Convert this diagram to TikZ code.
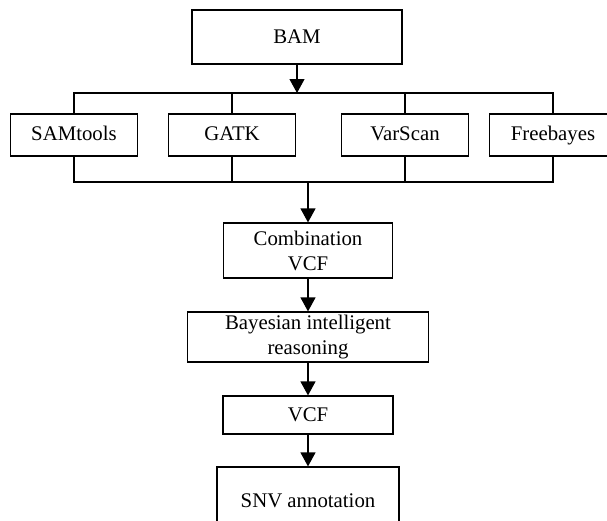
\documentclass[tikz,border=0pt]{standalone}
\usepackage{fontspec}
\setmainfont{Liberation Serif}
\usetikzlibrary{arrows.meta}

\begin{document}
\begin{tikzpicture}[x=1pt, y=-1pt,
    box/.style={draw, line width=1.2pt, inner sep=0pt, align=center,
        font=\fontsize{20.8}{25}\selectfont},
    tool/.style={box, minimum width=127, minimum height=42, text height=14pt, text depth=4pt},
    link/.style={line width=1.2pt},
    arr/.style={link, -{Triangle[width=15pt, length=14pt]}}]
    \clip (0,0) rectangle (607,520);

    % Input
    \node[box, minimum width=210, minimum height=54] (bam) at (297,37) {BAM};

    % Callers
    \node[tool] (samtools) at (74,135) {SAMtools};
    \node[tool] (gatk) at (232,135) {GATK};
    \node[tool] (varscan) at (405,135) {VarScan};
    \node[tool] (freebayes) at (553,135) {Freebayes};

    % Pipeline
    \node[box, minimum width=169, minimum height=55] (combvcf) at (308,250.5) {Combination\\VCF};
    \node[box, minimum width=241, minimum height=50] (bayes) at (308,337) {Bayesian intelligent\\reasoning};
    \node[box, minimum width=170, minimum height=38] (vcf) at (308,415) {VCF};
    \node[box, minimum width=182, minimum height=68] (snv) at (308,501) {SNV annotation};

    % Buses
    \coordinate (tophub) at (297,93);
    \coordinate (bothub) at (308,182);
    \draw[arr] (bam) -- (tophub);
    \draw[link] (samtools.north) -- (samtools.north |- tophub) -- (freebayes.north |- tophub) -- (freebayes.north);
    \draw[link] (gatk.north) -- (gatk.north |- tophub);
    \draw[link] (varscan.north) -- (varscan.north |- tophub);
    \draw[link] (samtools.south) -- (samtools.south |- bothub) -- (freebayes.south |- bothub) -- (freebayes.south);
    \draw[link] (gatk.south) -- (gatk.south |- bothub);
    \draw[link] (varscan.south) -- (varscan.south |- bothub);

    % Flow
    \draw[arr] (bothub) -- (combvcf.north -| bothub);
    \draw[arr] (combvcf) -- (bayes);
    \draw[arr] (bayes) -- (vcf);
    \draw[arr] (vcf) -- (snv);
\end{tikzpicture}
\end{document}
